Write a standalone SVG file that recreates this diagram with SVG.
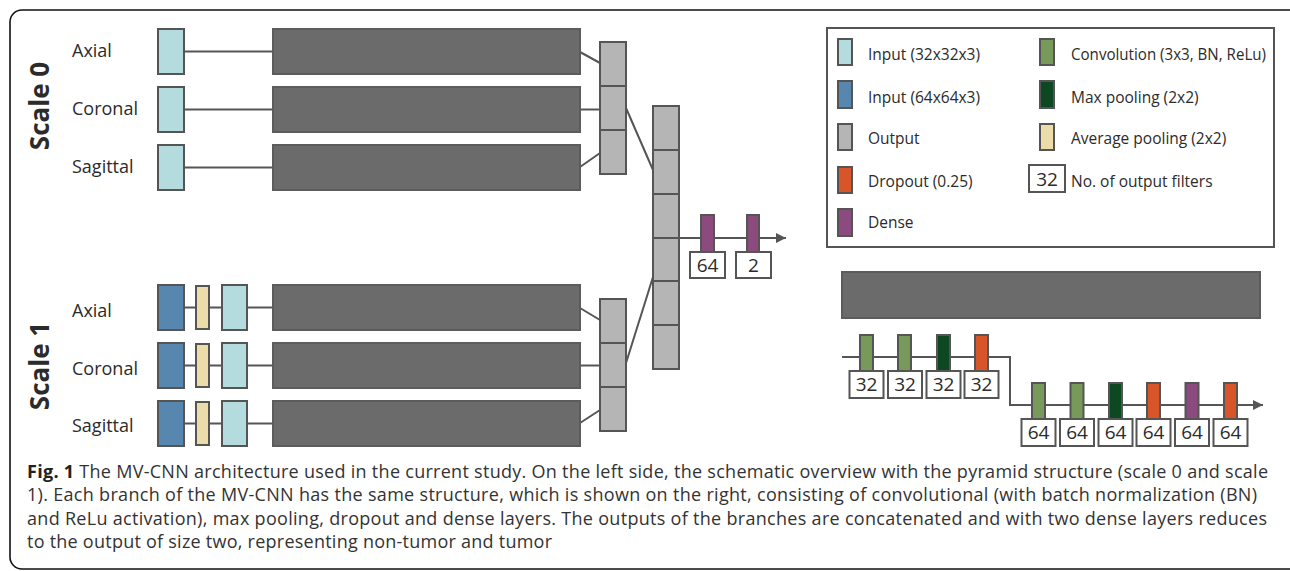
<svg xmlns="http://www.w3.org/2000/svg" width="1290" height="571" viewBox="0 0 1290 571">
<style>
text{font-family:"Open Sans","Noto Sans","Liberation Sans",sans-serif;fill:#2b2b2b}
.lbl{font-size:18px}
.scale{font-size:26px;font-weight:bold;fill:#2b2b2b}
.leg{font-size:15.5px}
.num{font-size:19px;text-anchor:middle}
.cap{font-size:18px;fill:#333}
.b{stroke:#555;stroke-width:2}
.lb{fill:#b4dcde}
.db{fill:#5787ae}
.yl{fill:#ecdcaa}
.gr{fill:#b5b5b5}
.dk{fill:#6b6b6b;stroke:#5c5c5c;stroke-width:2}
.cv{fill:#779a5b}
.mp{fill:#0d4822}
.dp{fill:#d8552a}
.dn{fill:#8b4b7f}
.wb{fill:#fff;stroke:#555;stroke-width:2}
.ln{stroke:#555;stroke-width:2;fill:none}
</style>
<defs>
<marker id="arr" markerWidth="10" markerHeight="10" refX="10" refY="5" orient="auto" markerUnits="userSpaceOnUse">
<path d="M0,0 L10,5 L0,10 Z" fill="#555"/>
</marker>
</defs>
<rect id="frame" x="10" y="10" width="1295" height="559" rx="12" fill="none" stroke="#111" stroke-width="1.6"/>

<g id="connectors">
<line class="ln" x1="184" y1="51.5" x2="273" y2="51.5"/>
<line class="ln" x1="184" y1="109.5" x2="273" y2="109.5"/>
<line class="ln" x1="184" y1="167.5" x2="273" y2="167.5"/>
<path class="ln" d="M184,307.5H196M209,307.5H222M247,307.5H273"/>
<path class="ln" d="M184,365.5H196M209,365.5H222M247,365.5H273"/>
<path class="ln" d="M184,423.5H196M209,423.5H222M247,423.5H273"/>
<line class="ln" x1="580" y1="52" x2="600" y2="63"/>
<line class="ln" x1="580" y1="109.5" x2="600" y2="109.5"/>
<line class="ln" x1="580" y1="167" x2="600" y2="153"/>
<line class="ln" x1="580" y1="308" x2="600" y2="320"/>
<line class="ln" x1="580" y1="365.5" x2="600" y2="365.5"/>
<line class="ln" x1="580" y1="423" x2="600" y2="410"/>
<line class="ln" x1="626" y1="108" x2="653" y2="170"/>
<line class="ln" x1="626" y1="363" x2="653" y2="277"/>
<line class="ln" x1="679" y1="238" x2="786" y2="238" marker-end="url(#arr)"/>
<path class="ln" d="M842,357H1010V405H1263" marker-end="url(#arr)"/>
</g>

<g id="scale0">
<text class="scale" transform="translate(49,106) rotate(-90)" text-anchor="middle">Scale 0</text>
<text class="lbl" x="72" y="57">Axial</text>
<text class="lbl" x="72" y="115">Coronal</text>
<text class="lbl" x="72" y="173">Sagittal</text>
<rect class="b lb" x="158" y="29" width="26" height="45"/>
<rect class="b lb" x="158" y="87" width="26" height="45"/>
<rect class="b lb" x="158" y="145" width="26" height="45"/>
<rect class="dk" x="273" y="29" width="307" height="45"/>
<rect class="dk" x="273" y="87" width="307" height="45"/>
<rect class="dk" x="273" y="145" width="307" height="45"/>
</g>

<g id="scale1">
<text class="scale" transform="translate(49,366) rotate(-90)" text-anchor="middle">Scale 1</text>
<text class="lbl" x="72" y="317">Axial</text>
<text class="lbl" x="72" y="375">Coronal</text>
<text class="lbl" x="72" y="432">Sagittal</text>
<rect class="b db" x="158" y="285" width="26" height="45"/>
<rect class="b yl" x="196" y="286" width="13" height="43"/>
<rect class="b lb" x="222" y="285" width="25" height="45"/>
<rect class="b db" x="158" y="343" width="26" height="45"/>
<rect class="b yl" x="196" y="344" width="13" height="43"/>
<rect class="b lb" x="222" y="343" width="25" height="45"/>
<rect class="b db" x="158" y="401" width="26" height="45"/>
<rect class="b yl" x="196" y="402" width="13" height="43"/>
<rect class="b lb" x="222" y="401" width="25" height="45"/>
<rect class="dk" x="273" y="285" width="307" height="45"/>
<rect class="dk" x="273" y="343" width="307" height="45"/>
<rect class="dk" x="273" y="401" width="307" height="45"/>
</g>

<g id="output-scale0">
<rect class="b gr" x="600" y="42" width="26" height="44"/>
<rect class="b gr" x="600" y="86" width="26" height="44"/>
<rect class="b gr" x="600" y="130" width="26" height="44"/>
</g>
<g id="output-scale1">
<rect class="b gr" x="600" y="299" width="26" height="44"/>
<rect class="b gr" x="600" y="343" width="26" height="44"/>
<rect class="b gr" x="600" y="387" width="26" height="44"/>
</g>
<g id="concat">
<rect class="b gr" x="653" y="106" width="26" height="44"/>
<rect class="b gr" x="653" y="150" width="26" height="44"/>
<rect class="b gr" x="653" y="194" width="26" height="44"/>
<rect class="b gr" x="653" y="238" width="26" height="43"/>
<rect class="b gr" x="653" y="281" width="26" height="44"/>
<rect class="b gr" x="653" y="325" width="26" height="44"/>
</g>
<g id="dense64">
<rect class="b dn" x="701" y="215" width="13" height="37"/>
<rect class="wb" x="690" y="252" width="35" height="26"/>
<text class="num" x="707.5" y="272">64</text>
</g>
<g id="dense2">
<rect class="b dn" x="747" y="215" width="12" height="37"/>
<rect class="wb" x="736" y="252" width="35" height="26"/>
<text class="num" x="753.5" y="272">2</text>
</g>

<g id="legend">
<rect x="827" y="28" width="447" height="219" fill="#fff" stroke="#555" stroke-width="2"/>
<rect class="b lb" x="838" y="39" width="14" height="26"/>
<text class="leg" x="868" y="60">Input (32x32x3)</text>
<rect class="b db" x="838" y="81" width="14" height="27"/>
<text class="leg" x="868" y="103">Input (64x64x3)</text>
<rect class="b gr" x="838" y="124" width="14" height="26"/>
<text class="leg" x="868" y="144">Output</text>
<rect class="b dp" x="838" y="167" width="14" height="26"/>
<text class="leg" x="868" y="187">Dropout (0.25)</text>
<rect class="b dn" x="838" y="209" width="14" height="27"/>
<text class="leg" x="868" y="228">Dense</text>
<rect class="b cv" x="1040" y="39" width="14" height="26"/>
<text class="leg" x="1071" y="60" textLength="195" lengthAdjust="spacingAndGlyphs">Convolution (3x3, BN, ReLu)</text>
<rect class="b mp" x="1040" y="81" width="14" height="27"/>
<text class="leg" x="1071" y="103">Max pooling (2x2)</text>
<rect class="b yl" x="1040" y="124" width="14" height="26"/>
<text class="leg" x="1071" y="144">Average pooling (2x2)</text>
<rect class="wb" x="1029" y="165" width="36" height="27"/>
<text class="num" x="1047" y="185.5">32</text>
<text class="leg" x="1071" y="187">No. of output filters</text>
</g>

<g id="branch">
<rect class="dk" x="842" y="272" width="418" height="46"/>
<rect class="b cv" x="860" y="335" width="13" height="36"/>
<rect class="wb" x="849.5" y="371" width="34" height="27"/>
<text class="num" x="866.5" y="391">32</text>
<rect class="b cv" x="898" y="335" width="13" height="36"/>
<rect class="wb" x="888" y="371" width="34" height="27"/>
<text class="num" x="905" y="391">32</text>
<rect class="b mp" x="937" y="335" width="13" height="36"/>
<rect class="wb" x="926.5" y="371" width="34" height="27"/>
<text class="num" x="943.5" y="391">32</text>
<rect class="b dp" x="975" y="335" width="13" height="36"/>
<rect class="wb" x="964.5" y="371" width="34" height="27"/>
<text class="num" x="981.5" y="391">32</text>
<rect class="b cv" x="1032" y="383" width="13" height="36"/>
<rect class="wb" x="1021.5" y="419" width="34" height="27"/>
<text class="num" x="1038.5" y="439">64</text>
<rect class="b cv" x="1070.5" y="383" width="13" height="36"/>
<rect class="wb" x="1060" y="419" width="34" height="27"/>
<text class="num" x="1077" y="439">64</text>
<rect class="b mp" x="1109" y="383" width="13" height="36"/>
<rect class="wb" x="1098.5" y="419" width="34" height="27"/>
<text class="num" x="1115.5" y="439">64</text>
<rect class="b dp" x="1147" y="383" width="13" height="36"/>
<rect class="wb" x="1136.5" y="419" width="34" height="27"/>
<text class="num" x="1153.5" y="439">64</text>
<rect class="b dn" x="1185.5" y="383" width="13" height="36"/>
<rect class="wb" x="1175" y="419" width="34" height="27"/>
<text class="num" x="1192" y="439">64</text>
<rect class="b dp" x="1224" y="383" width="13" height="36"/>
<rect class="wb" x="1213.5" y="419" width="34" height="27"/>
<text class="num" x="1230.5" y="439">64</text>
</g>

<g id="caption">
<text class="cap" x="27" y="478" textLength="1241"><tspan font-weight="bold" fill="#222">Fig. 1</tspan> The MV-CNN architecture used in the current study. On the left side, the schematic overview with the pyramid structure (scale 0 and scale</text>
<text class="cap" x="27" y="501" textLength="1230">1). Each branch of the MV-CNN has the same structure, which is shown on the right, consisting of convolutional (with batch normalization (BN)</text>
<text class="cap" x="27" y="525" textLength="1240">and ReLu activation), max pooling, dropout and dense layers. The outputs of the branches are concatenated and with two dense layers reduces</text>
<text class="cap" x="27" y="548" textLength="525">to the output of size two, representing non-tumor and tumor</text>
</g>
</svg>
